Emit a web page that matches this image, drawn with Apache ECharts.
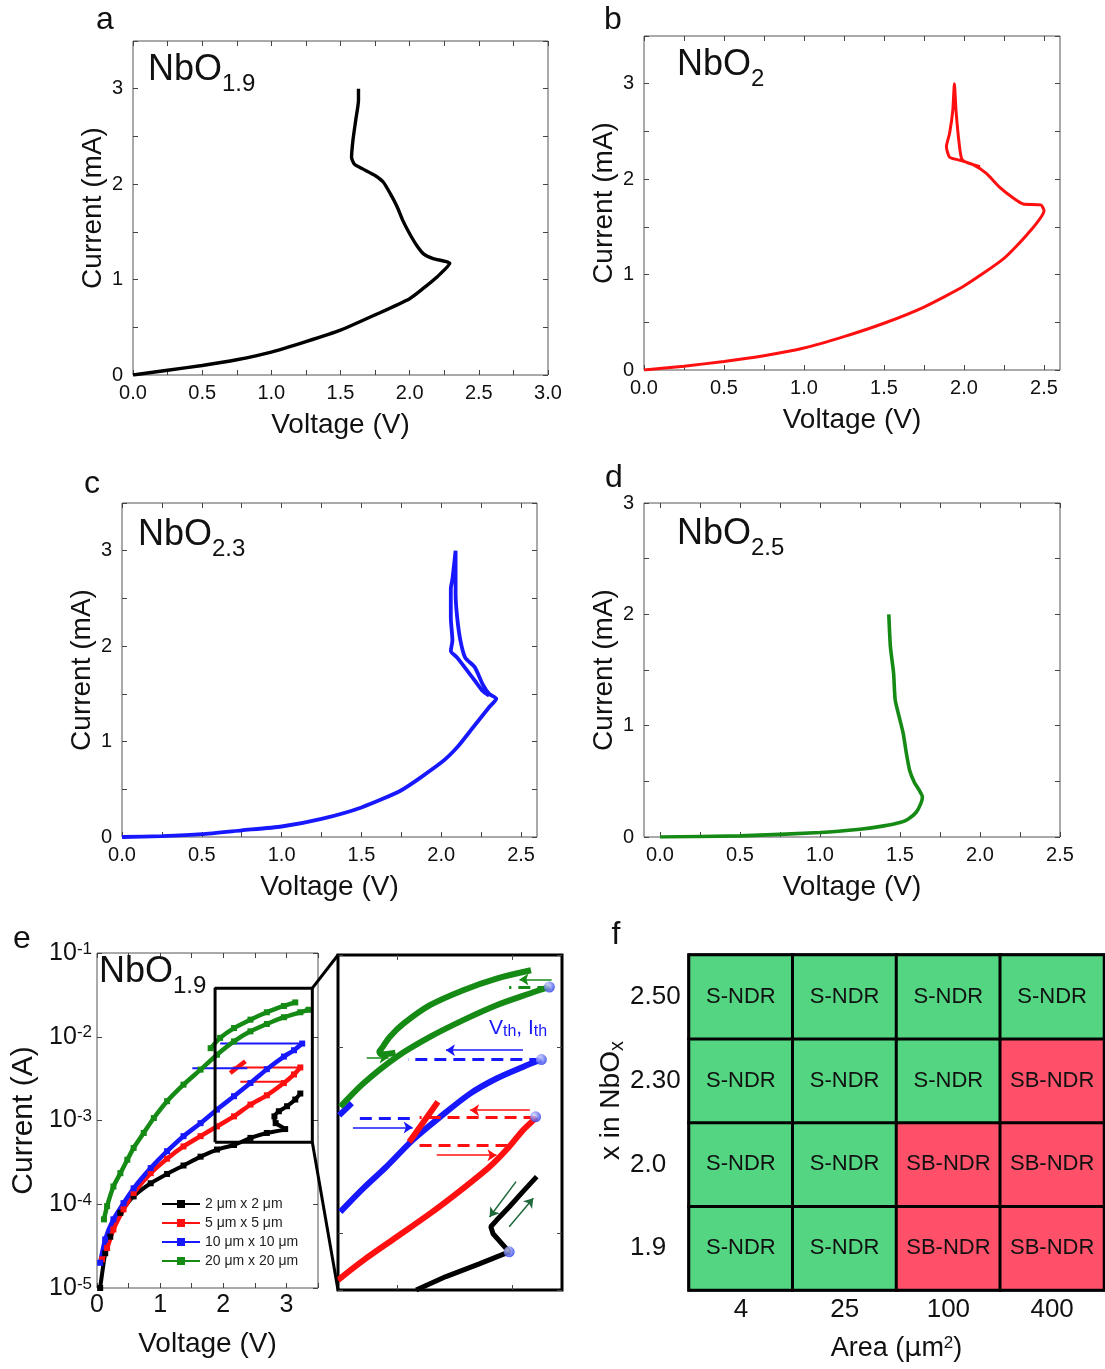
<!DOCTYPE html>
<html>
<head>
<meta charset="utf-8">
<script src="https://cdn.jsdelivr.net/npm/echarts@6/dist/echarts.min.js"></script>
<style>
html, body { margin: 0; padding: 0; background: #fff; }
#main { width: 1105px; height: 1369px; }
</style>
</head>
<body>
<div id="main"></div>
<script>
// ---- panel a-d : I-V sweeps (V, mA) ----
var aV = [0, 0.25, 0.5, 0.75, 1.0, 1.25, 1.5, 1.75, 2.0, 2.1, 2.2, 2.29, 2.17, 2.10, 2.05, 2.0, 1.95, 1.91, 1.86, 1.81, 1.75, 1.66, 1.60, 1.58, 1.59, 1.61, 1.63, 1.63];
var aI = [0, 0.05, 0.10, 0.16, 0.24, 0.35, 0.47, 0.63, 0.80, 0.91, 1.03, 1.17, 1.22, 1.27, 1.36, 1.48, 1.62, 1.76, 1.90, 2.02, 2.09, 2.16, 2.21, 2.28, 2.46, 2.67, 2.88, 3.0];

var bV = [0, 0.25, 0.5, 0.75, 1.0, 1.25, 1.5, 1.75, 2.0, 2.25, 2.4, 2.5, 2.48, 2.37, 2.31, 2.22, 2.14, 2.06, 1.97, 1.91, 1.89, 1.91, 1.93, 1.94, 1.95, 1.97, 1.99, 2.10];
var bI = [0, 0.04, 0.09, 0.15, 0.23, 0.35, 0.49, 0.66, 0.88, 1.17, 1.43, 1.67, 1.73, 1.74, 1.80, 1.92, 2.06, 2.15, 2.20, 2.23, 2.34, 2.48, 2.72, 3.0, 2.72, 2.37, 2.20, 2.13];

var cV = [0, 0.25, 0.5, 0.75, 1.0, 1.25, 1.5, 1.75, 2.0, 2.1, 2.2, 2.3, 2.345, 2.30, 2.26, 2.21, 2.15, 2.12, 2.10, 2.09, 2.09, 2.07, 2.06, 2.06, 2.07, 2.06, 2.10, 2.21, 2.26, 2.30];
var cI = [0, 0.01, 0.03, 0.07, 0.11, 0.19, 0.31, 0.49, 0.78, 0.94, 1.15, 1.36, 1.45, 1.50, 1.60, 1.78, 1.88, 2.06, 2.30, 2.55, 3.0, 2.70, 2.60, 2.30, 2.06, 1.95, 1.88, 1.64, 1.53, 1.48];

var dV = [0, 0.5, 1.0, 1.25, 1.4, 1.5, 1.55, 1.6, 1.63, 1.64, 1.62, 1.59, 1.56, 1.54, 1.52, 1.50, 1.47, 1.46, 1.44, 1.43];
var dI = [0, 0.01, 0.04, 0.07, 0.10, 0.13, 0.16, 0.22, 0.30, 0.36, 0.42, 0.49, 0.60, 0.75, 0.93, 1.05, 1.23, 1.47, 1.71, 2.0];

// ---- panel e : log I-V for four device areas (V, A) ----
var sizes = ['2 μm x 2 μm', '5 μm x 5 μm', '10 μm x 10 μm', '20 μm x 20 μm'];
var eBlackV = [0.05, 0.13, 0.21, 0.37, 0.58, 0.85, 1.11, 1.37, 1.64, 1.90, 2.17, 2.43, 2.69, 2.98, 2.83, 2.81, 2.88, 3.01, 3.14, 3.22];
var eBlackI = [1.0e-5, 2.6e-5, 4.1e-5, 7.9e-5, 1.24e-4, 1.78e-4, 2.3e-4, 2.9e-4, 3.7e-4, 4.5e-4, 5.1e-4, 6.2e-4, 7.1e-4, 7.9e-4, 9.3e-4, 1.12e-3, 1.29e-3, 1.48e-3, 1.78e-3, 2.1e-3];
var eRedV = [0.08, 0.16, 0.26, 0.42, 0.58, 0.85, 1.11, 1.37, 1.64, 1.90, 2.17, 2.43, 2.69, 2.96, 3.12, 3.22];
var eRedI = [2.2e-5, 3.0e-5, 5.0e-5, 8.7e-5, 1.36e-4, 2.35e-4, 3.5e-4, 4.9e-4, 6.5e-4, 8.5e-4, 1.12e-3, 1.55e-3, 2.0e-3, 2.8e-3, 3.55e-3, 4.3e-3];
var eRedSpikeV = [2.11, 2.35];
var eRedSpikeI = [3.7e-3, 5.1e-3];
var eRedJumpTopV = [3.22, 2.15], eRedJumpTopI = [4.3e-3, 4.3e-3];
var eRedJumpLowV = [2.27, 2.93], eRedJumpLowI = [2.9e-3, 2.9e-3];
var eBlueV = [0.05, 0.13, 0.26, 0.42, 0.58, 0.85, 1.11, 1.37, 1.64, 1.90, 2.17, 2.43, 2.69, 2.96, 3.12, 3.25];
var eBlueI = [2.0e-5, 3.8e-5, 6.6e-5, 1.03e-4, 1.55e-4, 2.7e-4, 4.3e-4, 6.5e-4, 9.3e-4, 1.35e-3, 1.95e-3, 2.8e-3, 4.1e-3, 5.8e-3, 6.9e-3, 8.3e-3];
var eBlueJumpTopV = [3.25, 1.95], eBlueJumpTopI = [8.3e-3, 8.3e-3];
var eBlueJumpLowV = [1.51, 2.38], eBlueJumpLowI = [4.2e-3, 4.2e-3];
var eGreenV = [0.11, 0.16, 0.26, 0.37, 0.48, 0.58, 0.74, 0.90, 1.11, 1.37, 1.64, 1.90, 2.17, 2.43, 2.69, 2.96, 3.22, 3.35];
var eGreenI = [6.6e-5, 9.5e-5, 1.63e-4, 2.35e-4, 3.4e-4, 4.7e-4, 7.1e-4, 1.07e-3, 1.7e-3, 2.68e-3, 4.05e-3, 6.1e-3, 8.8e-3, 1.16e-2, 1.42e-2, 1.71e-2, 1.96e-2, 2.1e-2];
var eGreenRevV = [3.14, 2.96, 2.69, 2.43, 2.17, 1.95, 1.80];
var eGreenRevI = [2.57e-2, 2.33e-2, 1.96e-2, 1.60e-2, 1.27e-2, 9.7e-3, 7.3e-3];
var eBoxV = [1.87, 3.41, 3.41, 1.87, 1.87];
var eBoxI = [5.5e-4, 5.5e-4, 0.038, 0.038, 5.5e-4];

// ---- panel e inset (zoomed region, V, A) ----
var insGreenV = [1.50, 1.70, 1.99, 2.28, 2.57, 2.86, 3.15, 3.32];
var insGreenI = [4.78e-3, 6.37e-3, 8.83e-3, 1.13e-2, 1.39e-2, 1.67e-2, 1.93e-2, 2.09e-2];
var insGreenRevV = [3.16, 2.86, 2.57, 2.28, 2.05, 1.93, 1.87, 1.84, 1.86, 1.98];
var insGreenRevI = [2.57e-2, 2.32e-2, 2.01e-2, 1.67e-2, 1.33e-2, 1.13e-2, 1.0e-2, 9.4e-3, 9.1e-3, 9.3e-3];
var insBlueV = [1.50, 1.70, 1.90, 2.13, 2.37, 2.63, 2.86, 3.09, 3.25];
var insBlueI = [1.31e-3, 1.75e-3, 2.28e-3, 3.17e-3, 4.22e-3, 5.62e-3, 6.77e-3, 7.81e-3, 8.55e-3];
var insBlueStubV = [1.49, 1.60], insBlueStubI = [4.3e-3, 5.0e-3];
var insRedV = [1.48, 1.70, 1.99, 2.28, 2.57, 2.80, 2.97, 3.09, 3.18, 3.20];
var insRedI = [5.65e-4, 7.2e-4, 9.6e-4, 1.28e-3, 1.75e-3, 2.28e-3, 2.92e-3, 3.58e-3, 4.05e-3, 4.22e-3];
var insRedSpikeV = [2.10, 2.35], insRedSpikeI = [3.10e-3, 5.08e-3];
var insBlackV = [2.16, 2.42, 2.71, 2.97, 2.83, 2.81, 2.86, 2.97, 3.09, 3.21];
var insBlackI = [5.0e-4, 5.9e-4, 6.9e-4, 8.0e-4, 1.0e-3, 1.09e-3, 1.18e-3, 1.39e-3, 1.68e-3, 2.02e-3];
var insDotV = [3.32, 3.25, 3.20, 2.97];
var insDotI = [2.09e-2, 8.55e-3, 4.22e-3, 8.0e-4];
var greenDashes = [[[3.32, 2.09e-2], [2.97, 2.09e-2]]];
var blueDashes = [[[3.25, 8.55e-3], [2.09, 8.55e-3]], [[1.67, 4.14e-3], [2.12, 4.14e-3]]];
var redDashes = [[[3.20, 4.22e-3], [2.19, 4.22e-3]], [[2.19, 2.98e-3], [3.00, 2.98e-3]]];
var greenArrows = [[[3.34, 2.29e-2], [3.06, 2.29e-2]], [[1.73, 8.77e-3], [1.92, 8.77e-3]]];
var blueArrows = [[[3.09, 9.6e-3], [2.42, 9.6e-3]], [[1.61, 3.70e-3], [2.13, 3.70e-3]]];
var redArrows = [[[3.15, 4.58e-3], [2.63, 4.58e-3]], [[2.34, 2.63e-3], [2.86, 2.63e-3]]];
var blackArrows = [[[3.03, 1.90e-3], [2.80, 1.23e-3]], [[2.97, 1.09e-3], [3.18, 1.55e-3]]];

// ---- panel f : NDR type map ----
var areas = ['4', '25', '100', '400'];
var compositions = ['1.9', '2.0', '2.30', '2.50'];
var modeNames = ['S-NDR', 'SB-NDR'];
var modes = [          // rows follow compositions, columns follow areas
    [0, 0, 1, 1],
    [0, 0, 1, 1],
    [0, 0, 0, 1],
    [0, 0, 0, 0]
];

// ---- tick lists ----
var vTicks30 = [0, 0.25, 0.5, 0.75, 1, 1.25, 1.5, 1.75, 2, 2.25, 2.5, 2.75, 3];
var vLabels30 = [0, 0.5, 1, 1.5, 2, 2.5, 3];
var vTicks25 = [0, 0.25, 0.5, 0.75, 1, 1.25, 1.5, 1.75, 2, 2.25, 2.5];
var vLabels25 = [0, 0.5, 1, 1.5, 2, 2.5];
var iTicks35 = [0, 0.5, 1, 1.5, 2, 2.5, 3, 3.5];
var iTicks30 = [0, 0.5, 1, 1.5, 2, 2.5, 3];
var iLabels = [0, 1, 2, 3];
var eVTicks = [0, 0.5, 1, 1.5, 2, 2.5, 3, 3.5];
var eVLabels = [0, 1, 2, 3];
var insVTicks = [2, 3];

var FONT = '"Liberation Sans", Arial, sans-serif';
var GREEN = '#158a15', RED = '#ff1010', BLUE = '#1818ff', CELL_GREEN = '#53d581', CELL_RED = '#ff506a';

function pts(xs, ys) {
    return xs.map(function (x, i) { return [x, ys[i]]; });
}
function fix1(v) { return Number(v).toFixed(1); }
function intLabel(v) { return String(Math.round(v)); }
function powLabel(v) {
    return '{b|10}{s|' + Math.round(Math.log(v) / Math.LN10) + '}';
}

var grids = [], xAxes = [], yAxes = [], series = [];

function addFrame(rect, border, x, y) {
    var g = grids.length;
    grids.push({left: rect[0], top: rect[1], width: rect[2], height: rect[3], show: true,
        borderColor: border[0], borderWidth: border[1]});
    [x, y].forEach(function (ax, k) {
        var list = k ? yAxes : xAxes;
        var main = {
            gridIndex: g, type: ax.type || 'value', min: ax.min, max: ax.max,
            position: k ? 'left' : 'bottom',
            axisLine: {show: false, onZero: false}, splitLine: {show: false},
            axisTick: {show: true, inside: true, length: 5, lineStyle: {color: '#444'}},
            axisLabel: {show: !!ax.fmt, formatter: ax.fmt, fontSize: ax.fontSize || 20, color: '#111',
                margin: ax.margin || 8, fontFamily: FONT, rich: ax.rich},
            name: ax.name, nameLocation: 'middle', nameGap: ax.nameGap,
            nameTextStyle: {fontSize: ax.nameSize || 28, color: '#111', fontFamily: FONT}
        };
        var mirror = {
            gridIndex: g, type: ax.type || 'value', min: ax.min, max: ax.max,
            position: k ? 'right' : 'top',
            axisLine: {show: false, onZero: false}, splitLine: {show: false},
            axisTick: {show: true, inside: true, length: 5, lineStyle: {color: '#444'}},
            axisLabel: {show: false}
        };
        if (ax.ticks) {
            main.axisTick.customValues = ax.ticks;
            mirror.axisTick.customValues = ax.ticks;
        }
        if (ax.labels) main.axisLabel.customValues = ax.labels;
        list.push(main, mirror);
    });
    return g;
}

function ivPanel(rect, xr, xTicks, xLabels, yMax, yTicks) {
    return addFrame(rect, ['#555', 1],
        {min: xr[0], max: xr[1], ticks: xTicks, labels: xLabels, fmt: fix1, name: 'Voltage (V)', nameGap: 36},
        {min: 0, max: yMax, ticks: yTicks, labels: iLabels, fmt: intLabel, margin: 10, name: 'Current (mA)', nameGap: 26});
}
function curve(g, data, color, width, extra) {
    series.push(Object.assign({type: 'line', xAxisIndex: 2 * g, yAxisIndex: 2 * g, data: data,
        symbol: 'none', silent: true, lineStyle: {color: color, width: width}, itemStyle: {color: color}, z: 3}, extra || {}));
}

var gA = ivPanel([133, 41, 415, 334], [0, 3], vTicks30, vLabels30, 3.5, iTicks35);
var gB = ivPanel([644, 36, 416, 334], [0, 2.6], vTicks25, vLabels25, 3.5, iTicks35);
var gC = ivPanel([122, 503, 415, 334], [0, 2.6], vTicks25, vLabels25, 3.5, iTicks35);
var gD = ivPanel([644, 503, 416, 334], [-0.1, 2.5], vTicks25, vLabels25, 3, iTicks30);
curve(gA, pts(aV, aI), '#000', 3.4, {smooth: 0.2});
curve(gB, pts(bV, bI), RED, 3, {smooth: 0.2});
curve(gC, pts(cV, cI), BLUE, 3.8, {smooth: 0.2});
curve(gD, pts(dV, dI), GREEN, 3.6, {smooth: 0.2});

// panel e main
var powRich = {b: {fontSize: 25, color: '#111', fontFamily: FONT},
               s: {fontSize: 17, color: '#111', fontFamily: FONT, verticalAlign: 'top', lineHeight: 8}};
var gE = addFrame([97, 953, 221, 335], ['#555', 1],
    {min: 0, max: 3.5, ticks: eVTicks, labels: eVLabels, fmt: intLabel, fontSize: 25, margin: 5,
        name: 'Voltage (V)', nameGap: 42, nameSize: 28},
    {type: 'log', min: 1e-5, max: 0.1, fmt: powLabel, rich: powRich, margin: 5,
        name: 'Current (A)', nameGap: 58, nameSize: 30});
var sym = {symbol: 'rect', symbolSize: 6, showSymbol: true, smooth: 0.2};
curve(gE, pts(eBlackV, eBlackI), '#000', 4, Object.assign({name: sizes[0]}, sym));
curve(gE, pts(eRedV, eRedI), RED, 4.5, Object.assign({name: sizes[1]}, sym));
curve(gE, pts(eRedSpikeV, eRedSpikeI), RED, 4.5);
curve(gE, pts(eRedJumpTopV, eRedJumpTopI), RED, 2);
curve(gE, pts(eRedJumpLowV, eRedJumpLowI), RED, 2);
curve(gE, pts(eBlueV, eBlueI), BLUE, 4.5, Object.assign({name: sizes[2]}, sym));
curve(gE, pts(eBlueJumpTopV, eBlueJumpTopI), BLUE, 2);
curve(gE, pts(eBlueJumpLowV, eBlueJumpLowI), BLUE, 2);
curve(gE, pts(eGreenV, eGreenI), GREEN, 4.5, Object.assign({name: sizes[3]}, sym));
curve(gE, pts(eGreenRevV, eGreenRevI), GREEN, 4.5, sym);
curve(gE, pts(eBoxV, eBoxI), '#000', 3, {z: 6});

// panel e inset
var insX = [1.48, 3.43], insY = [5.0e-4, 0.031];
var gI = addFrame([338, 955, 224, 335], ['#000', 3],
    {min: insX[0], max: insX[1], ticks: insVTicks},
    {type: 'log', min: insY[0], max: insY[1]});
curve(gI, pts(insBlueStubV, insBlueStubI), BLUE, 6);
curve(gI, pts(insGreenV, insGreenI), GREEN, 6, {smooth: 0.3});
curve(gI, pts(insGreenRevV, insGreenRevI), GREEN, 6, {smooth: 0.3});
curve(gI, pts(insBlueV, insBlueI), BLUE, 6, {smooth: 0.3});
curve(gI, pts(insRedV, insRedI), RED, 6, {smooth: 0.3});
curve(gI, pts(insRedSpikeV, insRedSpikeI), RED, 6);
curve(gI, pts(insBlackV, insBlackI), '#000', 5);
function segs(g, list, color, width, dashed, arrow) {
    series.push({type: 'lines', coordinateSystem: 'cartesian2d', xAxisIndex: 2 * g, yAxisIndex: 2 * g,
        silent: true, z: 5, symbol: arrow ? ['none', 'arrow'] : ['none', 'none'], symbolSize: arrow ? 9 : 0,
        lineStyle: {color: color, width: width, type: dashed ? [12, 7] : 'solid', opacity: 1},
        data: list.map(function (s) { return {coords: s}; })});
}
segs(gI, greenDashes, GREEN, 3, true, false);
segs(gI, blueDashes, BLUE, 3, true, false);
segs(gI, redDashes, RED, 3, true, false);
segs(gI, greenArrows, GREEN, 1.5, false, true);
segs(gI, blueArrows, BLUE, 1.5, false, true);
segs(gI, redArrows, RED, 1.5, false, true);
segs(gI, blackArrows, '#1e6a3a', 1.5, false, true);
series.push({type: 'scatter', xAxisIndex: 2 * gI, yAxisIndex: 2 * gI, data: pts(insDotV, insDotI),
    symbolSize: 11, silent: true, z: 7,
    itemStyle: {color: new echarts.graphic.RadialGradient(0.35, 0.35, 0.7,
        [{offset: 0, color: '#d6dcff'}, {offset: 1, color: '#2436e8'}])}});

// panel f
var gF = grids.length;
grids.push({left: 689, top: 955, width: 415, height: 335, show: true, borderColor: '#000', borderWidth: 3});
xAxes.push({gridIndex: gF, type: 'category', data: areas, axisLine: {show: false}, axisTick: {show: false},
    axisLabel: {fontSize: 26, color: '#111', margin: 7, fontFamily: FONT},
    name: '{n|Area (}{m|μ}{n|m}{s|2}{n|)}', nameLocation: 'middle', nameGap: 45,
    nameTextStyle: {rich: {n: {fontSize: 27, color: '#111', fontFamily: FONT},
        m: {fontSize: 27, color: '#111', fontFamily: 'DejaVu Sans'},
        s: {fontSize: 17, color: '#111', fontFamily: FONT, verticalAlign: 'top', lineHeight: 8}}}});
yAxes.push({gridIndex: gF, type: 'category', data: compositions, axisLine: {show: false}, axisTick: {show: false},
    axisLabel: {fontSize: 26, color: '#111', margin: 59, align: 'left', fontFamily: FONT}});
var cells = [];
modes.forEach(function (row, j) {
    row.forEach(function (m, i) {
        cells.push({value: [i, j, m], itemStyle: {color: m ? CELL_RED : CELL_GREEN}});
    });
});
series.push({type: 'heatmap', xAxisIndex: xAxes.length - 1, yAxisIndex: yAxes.length - 1, data: cells, silent: true,
    itemStyle: {borderColor: '#000', borderWidth: 3},
    label: {show: true, fontSize: 22, color: '#111', fontFamily: FONT,
        formatter: function (p) { return modeNames[p.value[2]]; }}});

var chart = echarts.init(document.getElementById('main'));
chart.setOption({
    animation: false,
    backgroundColor: '#fff',
    textStyle: {fontFamily: FONT},
    grid: grids,
    xAxis: xAxes,
    yAxis: yAxes,
    legend: {data: sizes, orient: 'vertical', left: 156, top: 1192, itemGap: 5, itemWidth: 38, itemHeight: 10,
        selectedMode: false, textStyle: {fontSize: 14, color: '#222', fontFamily: FONT}},
    series: series
});

// ---- text annotations (sub-scripted labels placed by measured width) ----
var measureCtx = document.createElement('canvas').getContext('2d');
function textWidth(str, size) {
    measureCtx.font = size + 'px ' + FONT;
    return measureCtx.measureText(str).width;
}
function word(x, baseline, str, size, color, align) {
    return {type: 'text', x: x, y: baseline - 0.35 * size, silent: true, z: 20,
        style: {text: str, fontSize: size, fontFamily: FONT, fill: color || '#111',
            align: align || 'left', verticalAlign: 'middle'}};
}
// parts: [text, fontSize, baseline shift]
function run(x, baseline, parts, color) {
    var out = [];
    parts.forEach(function (p) {
        out.push(word(x, baseline + p[2], p[0], p[1], color));
        x += textWidth(p[0], p[1]);
    });
    return out;
}
function chem(x, baseline, sub) {
    return run(x, baseline, [['NbO', 36, 0], [sub, 24, 10]]);
}
var elems = [
    word(105, 31, 'a', 32, '#111', 'center'), word(613, 31, 'b', 32, '#111', 'center'),
    word(92, 495, 'c', 32, '#111', 'center'), word(614, 489, 'd', 32, '#111', 'center'),
    word(22, 950, 'e', 32, '#111', 'center'), word(616, 946, 'f', 32, '#111', 'center')
].concat(
    chem(148, 83, '1.9'), chem(677, 78, '2'), chem(138, 548, '2.3'),
    chem(677, 547, '2.5'), chem(99, 985, '1.9'),
    run(489, 1036, [['V', 21, 0], ['th', 16, 1], [', I', 21, 0], ['th', 16, 1]], BLUE)
);
// rotated y-axis title of panel f
elems.push({type: 'group', x: 621, y: 1160, rotation: Math.PI / 2, silent: true,
    children: run(0, 0, [['x in NbO', 28, 0], ['x', 20, 3]])});

var eIdx = {xAxisIndex: 2 * gE, yAxisIndex: 2 * gE};
var iIdx = {xAxisIndex: 2 * gI, yAxisIndex: 2 * gI};
var tr = chart.convertToPixel(eIdx, [eBoxV[1], eBoxI[2]]);
var br = chart.convertToPixel(eIdx, [eBoxV[1], eBoxI[0]]);
var itl = chart.convertToPixel(iIdx, [insX[0], insY[1]]);
var ibl = chart.convertToPixel(iIdx, [insX[0], insY[0]]);
[[tr, itl], [br, ibl]].forEach(function (p) {
    elems.push({type: 'line', silent: true, z: 10,
        shape: {x1: p[0][0], y1: p[0][1], x2: p[1][0], y2: p[1][1]},
        style: {stroke: '#000', lineWidth: 3}});
});
chart.setOption({graphic: elems});
</script>
</body>
</html>
